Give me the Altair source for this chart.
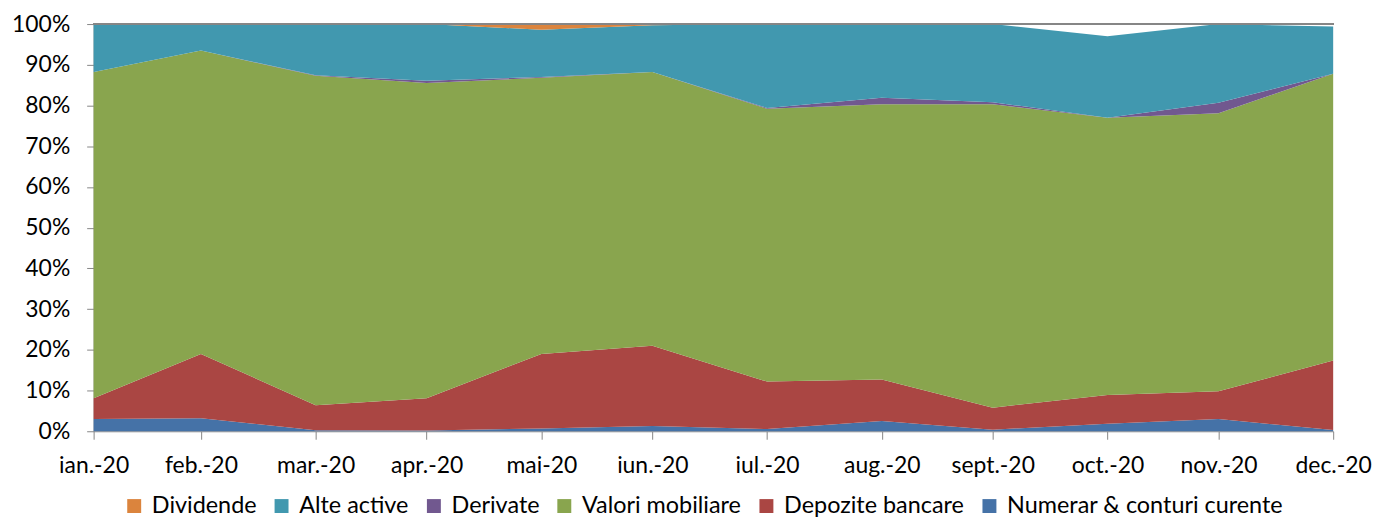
import altair as alt
import pandas as pd

months = ["ian.-20", "feb.-20", "mar.-20", "apr.-20", "mai-20", "iun.-20",
          "iul.-20", "aug.-20", "sept.-20", "oct.-20", "nov.-20", "dec.-20"]
month_end = ["2020-01-31", "2020-02-29", "2020-03-31", "2020-04-30", "2020-05-31", "2020-06-30",
             "2020-07-31", "2020-08-31", "2020-09-30", "2020-10-31", "2020-11-30", "2020-12-31"]

numerar = [3.0, 3.2, 0.25, 0.2, 0.7, 1.3, 0.55, 2.5, 0.4, 1.85, 3.0, 0.3]
depozite = [5.1, 15.8, 6.15, 7.9, 18.3, 19.7, 11.65, 10.2, 5.4, 7.05, 6.8, 17.1]
valori = [80.1, 74.5, 80.9, 77.4, 67.8, 67.2, 67.0, 67.6, 74.5, 68.1, 68.3, 70.4]
derivate = [0.0, 0.0, 0.1, 0.6, 0.2, 0.0, 0.2, 1.6, 0.5, 0.0, 2.6, 0.0]
alte = [11.8, 6.5, 12.65, 13.9, 11.6, 11.5, 20.6, 18.1, 19.2, 20.0, 19.3, 11.6]
dividende = [0.0, 0.0, 0.0, 0.0, 1.4, 0.3, 0.0, 0.0, 0.0, 0.0, 0.0, 0.0]

series_names = ["Numerar & conturi curente", "Depozite bancare", "Valori mobiliare",
                "Derivate", "Alte active", "Dividende"]
series_vals = [numerar, depozite, valori, derivate, alte, dividende]
legend_order = ["Dividende", "Alte active", "Derivate", "Valori mobiliare",
                "Depozite bancare", "Numerar & conturi curente"]
colors = ["#DB843D", "#4198AF", "#71588F", "#89A54E", "#AA4643", "#4572A7"]

dates = pd.to_datetime(month_end)
days = [int((d - dates[0]).days) for d in dates]

rows = []
for si, (name, vals) in enumerate(zip(series_names, series_vals)):
    for mi, v in enumerate(vals):
        rows.append({"day": days[mi], "month": months[mi], "series": name,
                     "value": v, "stackorder": si})
df = pd.DataFrame(rows)

FONT = "Lato"
GRAY = "#868686"

label_expr = ("[" + ",".join("'%s'" % m for m in months) + "][indexof(["
              + ",".join(str(d) for d in days) + "], datum.value)]")

area = alt.Chart(df).mark_area(opacity=1).encode(
    x=alt.X("day:Q",
            scale=alt.Scale(domain=[days[0], days[-1]], nice=False, zero=False),
            axis=alt.Axis(values=days, labelExpr=label_expr, title=None,
                          domainColor=GRAY, tickColor=GRAY, tickSize=8,
                          labelPadding=15, labelFontSize=23, labelFont=FONT,
                          labelColor="#000000", grid=False, labelFlush=False)),
    y=alt.Y("value:Q", stack="zero",
            scale=alt.Scale(domain=[0, 100], nice=False),
            axis=alt.Axis(values=list(range(0, 101, 10)),
                          labelExpr="datum.value + '%'", title=None,
                          domainColor=GRAY, tickColor=GRAY, tickSize=7,
                          labelPadding=17, labelFontSize=23, labelFont=FONT,
                          labelColor="#000000", grid=False)),
    color=alt.Color("series:N",
                    scale=alt.Scale(domain=legend_order, range=colors),
                    sort=legend_order,
                    legend=alt.Legend(title=None, orient="none", direction="horizontal",
                                      legendX=29, legendY=472,
                                      symbolType="square", symbolSize=196,
                                      symbolStrokeWidth=0, symbolOpacity=1,
                                      labelFontSize=23.5, labelFont=FONT,
                                      labelColor="#000000", labelOffset=6,
                                      columnPadding=13, padding=0,
                                      labelLimit=400)),
    order=alt.Order("stackorder:Q", sort="ascending"),
)

top_rule = alt.Chart(df).mark_rule(color=GRAY, strokeWidth=1.5).encode(
    y=alt.datum(100)
)

chart = alt.layer(area, top_rule).properties(
    width=1245, height=409,
    autosize=alt.AutoSizeParams(type="none"),
    padding={"left": 86, "top": 15, "right": 40, "bottom": 88},
).configure_view(stroke=None)

chart.save("out.html", embed_options={"renderer": "svg", "actions": False})
